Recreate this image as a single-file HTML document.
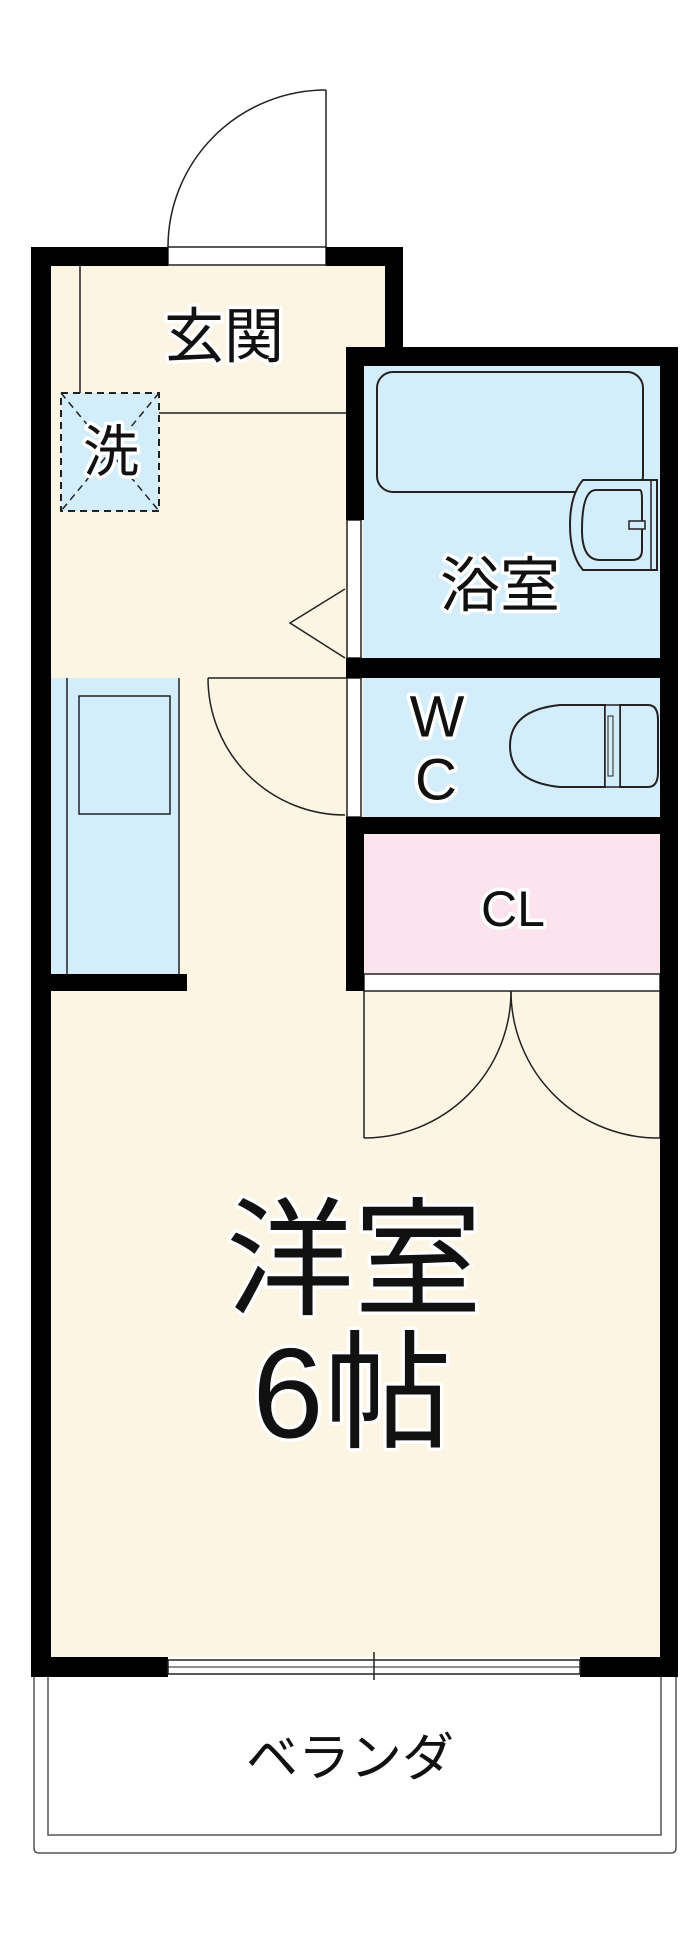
<!DOCTYPE html>
<html><head><meta charset="utf-8"><style>
html,body{margin:0;padding:0;background:#fff;}
svg{display:block;}
text{font-family:"Liberation Sans","Noto Sans CJK JP",sans-serif;fill:#111;stroke:#fff;stroke-width:7px;paint-order:stroke;stroke-linejoin:round;text-anchor:middle;dominant-baseline:central;}
</style></head><body>
<svg width="700" height="1933" viewBox="0 0 700 1933" xmlns="http://www.w3.org/2000/svg">
<!-- floors -->
<rect x="50" y="265" width="296" height="1392" fill="#fdf5e3"/>
<rect x="50" y="265" width="336" height="101" fill="#fdf5e3"/>
<rect x="346" y="366" width="314" height="1291" fill="#fdf5e3"/>
<!-- bath -->
<rect x="363" y="365" width="297" height="293" fill="#d3eefa"/>
<!-- WC -->
<rect x="363" y="678" width="297" height="139" fill="#d3eefa"/>
<!-- CL -->
<rect x="364" y="833" width="296" height="141" fill="#fce4ee"/>
<!-- kitchen -->
<rect x="50" y="678" width="129" height="296" fill="#d3eefa"/>
<line x1="67" y1="678" x2="67" y2="974" stroke="#222" stroke-width="1.5"/>
<line x1="179" y1="678" x2="179" y2="974" stroke="#222" stroke-width="1.5"/>
<rect x="79" y="696" width="91" height="118" fill="none" stroke="#222" stroke-width="1.5"/>
<!-- laundry -->
<rect x="61" y="393" width="98" height="118" fill="#d3eefa" stroke="#222" stroke-width="2" stroke-dasharray="7,5"/>
<line x1="61" y1="393" x2="159" y2="511" stroke="#222" stroke-width="1.5" stroke-dasharray="7,5"/>
<line x1="159" y1="393" x2="61" y2="511" stroke="#222" stroke-width="1.5" stroke-dasharray="7,5"/>
<!-- genkan lines -->
<line x1="80" y1="265" x2="80" y2="393" stroke="#222" stroke-width="1.5"/>
<line x1="159" y1="413" x2="346" y2="413" stroke="#222" stroke-width="1.5"/>
<!-- entrance door -->
<rect x="168" y="247" width="158" height="18" fill="#fff" stroke="#222" stroke-width="1.5"/>
<line x1="326" y1="90" x2="326" y2="247" stroke="#222" stroke-width="1.5"/>
<path d="M168 247 A158 157 0 0 1 326 90" fill="none" stroke="#222" stroke-width="1.5"/>
<!-- bath tub -->
<rect x="377" y="372" width="266" height="120" rx="16" fill="#d3eefa" stroke="#222" stroke-width="2"/>
<!-- sink -->
<path d="M583 480 L657 480 L657 570 L583 570 Q570 555 570 525 Q570 495 583 480 Z" fill="#d3eefa" stroke="#222" stroke-width="2"/>
<path d="M596 490 L640 490 Q642 490 642 500 L642 550 Q642 560 632 560 L600 560 Q582 560 582 530 Q582 490 596 490 Z" fill="none" stroke="#222" stroke-width="2"/>
<rect x="629" y="521" width="16" height="8" fill="#d3eefa" stroke="#222" stroke-width="1.5"/>
<line x1="651" y1="480" x2="651" y2="570" stroke="#222" stroke-width="1.5"/>
<!-- toilet -->
<path d="M605 705 L560 705 Q510 710 510 746 Q510 782 560 787 L605 787 Z" fill="#d3eefa" stroke="#222" stroke-width="2"/>
<path d="M620 705 L648 705 Q658 705 658 720 L658 772 Q658 787 648 787 L620 787 Z" fill="#d3eefa" stroke="#222" stroke-width="2"/>
<rect x="605" y="705" width="15" height="82" fill="#d3eefa" stroke="#222" stroke-width="1.5"/>
<rect x="608" y="716" width="5" height="60" fill="none" stroke="#222" stroke-width="1"/>
<!-- windows on bath/wc left -->
<rect x="347" y="520" width="14" height="138" fill="#fff" stroke="#222" stroke-width="1.5"/>
<rect x="347" y="678" width="14" height="139" fill="#fff" stroke="#222" stroke-width="1.5"/>
<!-- triangle -->
<polyline points="345,589 290,623 345,658" fill="none" stroke="#222" stroke-width="1.5"/>
<!-- WC door -->
<line x1="208" y1="678" x2="346" y2="678" stroke="#222" stroke-width="1.5"/>
<path d="M208 678 A137 137 0 0 0 345 815" fill="none" stroke="#222" stroke-width="1.5"/>
<!-- closet -->
<rect x="364" y="974" width="296" height="17" fill="#fff" stroke="#222" stroke-width="1.5"/>
<line x1="364" y1="991" x2="364" y2="1138" stroke="#222" stroke-width="1.5"/>
<line x1="660" y1="991" x2="660" y2="1138" stroke="#222" stroke-width="1.5"/>
<path d="M511 991 A147 147 0 0 1 364 1138" fill="none" stroke="#222" stroke-width="1.5"/>
<path d="M511 991 A147 147 0 0 0 660 1138" fill="none" stroke="#222" stroke-width="1.5"/>
<!-- walls -->
<g fill="#000">
<rect x="31" y="247" width="137" height="19"/>
<rect x="326" y="247" width="77" height="19"/>
<rect x="31" y="247" width="20" height="1430"/>
<rect x="385" y="247" width="18" height="100"/>
<rect x="346" y="347" width="331" height="19"/>
<rect x="346" y="347" width="18" height="173"/>
<rect x="660" y="347" width="18" height="1330"/>
<rect x="346" y="658" width="331" height="20"/>
<rect x="346" y="817" width="331" height="17"/>
<rect x="346" y="817" width="18" height="174"/>
<rect x="31" y="974" width="156" height="17"/>
<rect x="31" y="1657" width="137" height="20"/>
<rect x="580" y="1657" width="98" height="20"/>
</g>
<!-- balcony window -->
<rect x="168" y="1660" width="412" height="14" fill="#fff" stroke="#222" stroke-width="1.5"/>
<line x1="168" y1="1667" x2="580" y2="1667" stroke="#222" stroke-width="1"/>
<line x1="374" y1="1652" x2="374" y2="1680" stroke="#222" stroke-width="1.5"/>
<!-- veranda -->
<path d="M34 1677 L34 1848 Q34 1853 39 1853 L671 1853 Q676 1853 676 1848 L676 1677" fill="none" stroke="#555" stroke-width="1.5"/>
<path d="M48 1677 L48 1835 L661 1835 L661 1677" fill="none" stroke="#555" stroke-width="1.5"/>
<!-- labels -->
<text x="224" y="337" font-size="60">玄関</text>
<text x="111" y="452" font-size="56">洗</text>
<text x="500" y="586" font-size="60">浴室</text>
<text x="437" y="717" font-size="58">W</text>
<text x="436" y="780" font-size="58">C</text>
<text x="513" y="909" font-size="50">CL</text>
<text x="354" y="1261" font-size="128" stroke-width="10">洋室</text>
<text x="352" y="1394" font-size="128" stroke-width="10">6帖</text>
<text x="350" y="1759" font-size="52">ベランダ</text>
</svg>
</body></html>
